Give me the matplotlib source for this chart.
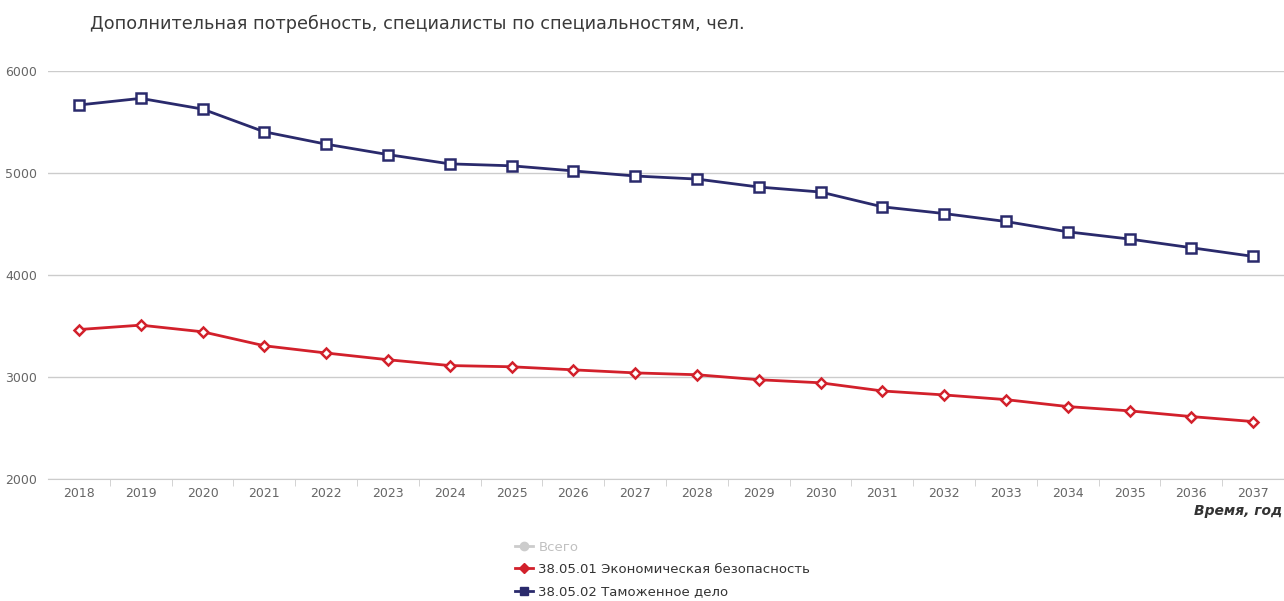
import numpy as np
import matplotlib.pyplot as plt
from matplotlib.lines import Line2D

plt.rcParams['font.family'] = ['DejaVu Sans']

# данные
years = [str(y) for y in range(2018, 2038)]
econ_security = [3465, 3508, 3443, 3306, 3235, 3169, 3112, 3100, 3070, 3040,
                 3022, 2973, 2943, 2863, 2824, 2778, 2710, 2668, 2612, 2563]
customs = [5666, 5731, 5626, 5403, 5282, 5180, 5089, 5070, 5020, 4970,
           4940, 4862, 4813, 4668, 4602, 4524, 4423, 4352, 4267, 4182]
yticks = [2000, 3000, 4000, 5000, 6000]

title = 'Дополнительная потребность, специалисты по специальностям, чел.'
legend_labels = ['Всего', '38.05.01 Экономическая безопасность', '38.05.02 Таможенное дело']

red = '#d2202b'
navy = '#2a2a6c'
grey_txt = '#666666'

fig = plt.figure(figsize=(12.84, 6.01), dpi=100)
ax = fig.add_axes([0.0374, 0.203, 0.9626, 0.679])

x = np.arange(len(years))
ax.plot(x, customs, color=navy, lw=2, marker='s', ms=6.5, mfc='white', mec=navy, mew=1.8, zorder=3)
ax.plot(x, econ_security, color=red, lw=2, marker='D', ms=5.5, mfc='white', mec=red, mew=1.8, zorder=3)

ax.set_xlim(-0.5, len(years) - 0.5)
ax.set_ylim(2000, 6000)
ax.set_yticks(yticks)
ax.set_yticklabels([str(v) for v in yticks])
ax.set_xticks(x)
ax.set_xticklabels(years)
ax.set_xticks(x[:-1] + 0.5, minor=True)
ax.grid(axis='y', color='#cccccc', lw=1)
ax.set_axisbelow(True)

for s in ['top', 'right', 'left']:
    ax.spines[s].set_visible(False)
ax.spines['bottom'].set_color('#cccccc')
ax.tick_params(axis='y', length=0, labelsize=9, colors=grey_txt, pad=8)
ax.tick_params(axis='x', which='major', length=0, labelsize=9, colors=grey_txt, pad=6)
ax.tick_params(axis='x', which='minor', length=5, color='#cccccc')

fig.text(90 / 1284, 1 - 24 / 601, title, fontsize=12.7, color='#3a3a3a', va='center', ha='left')
fig.text(1282 / 1284, 1 - 511 / 601, 'Время, год', fontsize=10, fontweight='bold', fontstyle='italic',
         color='#333333', ha='right', va='center')

handles = [
    Line2D([], [], color='#cccccc', lw=2, marker='o', ms=6),
    Line2D([], [], color=red, lw=2, marker='D', ms=5),
    Line2D([], [], color=navy, lw=2, marker='s', ms=5.5),
]
leg = fig.legend(handles, legend_labels, loc='upper left', bbox_to_anchor=(508 / 1284, 1 - 534 / 601),
                 frameon=False, fontsize=9.5, handlelength=1.4, handletextpad=0.4, labelspacing=0.72,
                 borderpad=0)
texts = leg.get_texts()
texts[0].set_color('#c0c0c0')
for t in texts[1:]:
    t.set_color('#333333')

fig.savefig('out.png', dpi=100)
